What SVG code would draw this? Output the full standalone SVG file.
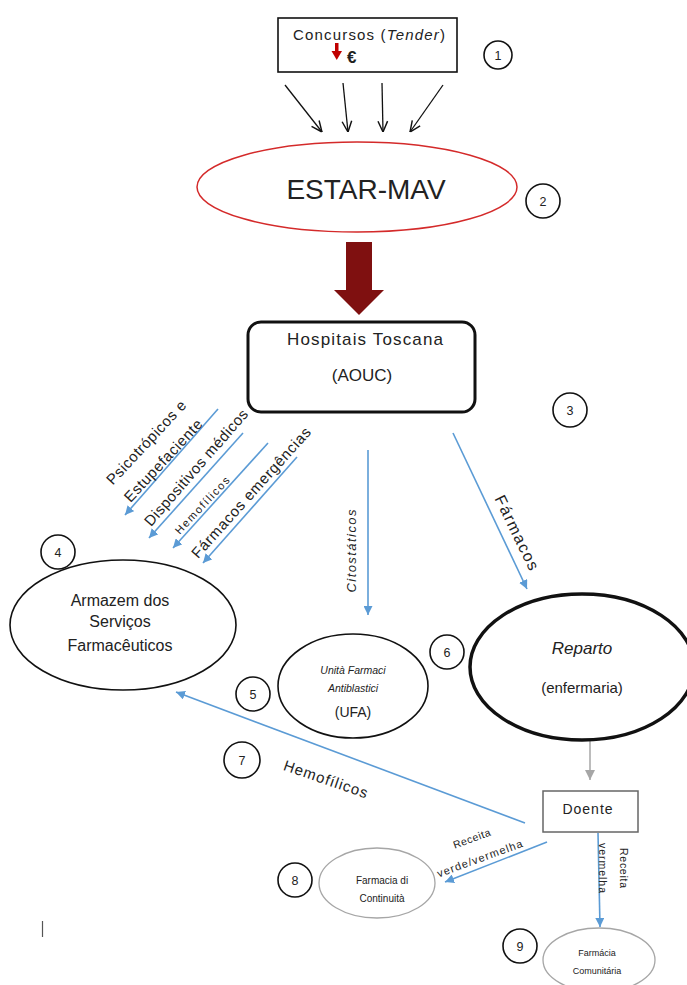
<svg xmlns="http://www.w3.org/2000/svg" width="687" height="985" viewBox="0 0 687 985">
<style>
text{font-family:"Liberation Sans",Arial,sans-serif;fill:#222}
.num{font-size:12.5px;text-anchor:middle}
.nc{fill:#fff;stroke:#111;stroke-width:1.6}
.blue{stroke:#5b9bd5;stroke-width:1.6;fill:none;marker-end:url(#ab)}
.blk{stroke:#111;stroke-width:1.3;fill:none;marker-end:url(#ak)}
.lbl{font-size:15px;text-anchor:middle}
.c{text-anchor:middle}
</style>
<defs>
<marker id="ab" viewBox="0 0 10 10" refX="10" refY="5" markerWidth="9" markerHeight="9" markerUnits="userSpaceOnUse" orient="auto"><path d="M0,0 L10,5 L0,10 z" fill="#5b9bd5"/></marker>
<marker id="ag" viewBox="0 0 10 10" refX="10" refY="5" markerWidth="10" markerHeight="10" markerUnits="userSpaceOnUse" orient="auto"><path d="M0,0 L10,5 L0,10 z" fill="#a6a6a6"/></marker>
<marker id="ak" viewBox="0 0 10 10" refX="10" refY="5" markerWidth="12" markerHeight="12" markerUnits="userSpaceOnUse" orient="auto"><path d="M1,1 L10,5 L1,9" fill="none" stroke="#111" stroke-width="1.2"/></marker>
</defs>
<rect width="687" height="985" fill="#fff"/>

<g id="connectors">
<line class="blk" x1="285" y1="85" x2="322" y2="132"/>
<line class="blk" x1="343" y1="83" x2="348" y2="132"/>
<line class="blk" x1="382" y1="83" x2="383" y2="132"/>
<line class="blk" x1="443" y1="85" x2="410" y2="132"/>
<polygon points="346,242 372,242 372,290 384,290 359,315 334,290 346,290" fill="#7f1010"/>
<line class="blue" x1="218" y1="409" x2="125" y2="515"/>
<line class="blue" x1="243" y1="433" x2="149" y2="538"/>
<line class="blue" x1="268" y1="443" x2="173" y2="548"/>
<line class="blue" x1="297" y1="457" x2="203" y2="563"/>
<line class="blue" x1="368" y1="450" x2="368" y2="615"/>
<line class="blue" x1="453" y1="433" x2="527" y2="589"/>
<line x1="590" y1="737" x2="590" y2="780" stroke="#a6a6a6" stroke-width="1.5" marker-end="url(#ag)"/>
<line class="blue" x1="525" y1="823" x2="176" y2="692"/>
<line class="blue" x1="547" y1="842" x2="445" y2="882"/>
<line class="blue" x1="598" y1="833" x2="600" y2="927"/>
<text class="lbl" transform="translate(150,446) rotate(-47)" textLength="109">Psicotrópicos e</text>
<text class="lbl" transform="translate(167,464) rotate(-47)" textLength="107">Estupefaciente</text>
<text class="lbl" transform="translate(200,471) rotate(-49)" textLength="149">Dispositivos médicos</text>
<text class="c" font-size="11" transform="translate(205,508) rotate(-47)" textLength="74">Hemofílicos</text>
<text class="lbl" font-size="15.5" transform="translate(255,496) rotate(-48)" textLength="170">Fármacos emergências</text>
<text class="c" font-size="13" font-style="italic" transform="translate(356,551) rotate(-90)" textLength="83">Citostáticos</text>
<text class="c" font-size="16" transform="translate(512,535) rotate(64)" textLength="81">Fármacos</text>
<text class="c" font-size="15" transform="translate(324,784) rotate(19)" textLength="88">Hemofílicos</text>
<text class="c" font-size="10.5" transform="translate(473,842) rotate(-20)" textLength="39">Receita</text>
<text class="c" font-size="11" transform="translate(481,862) rotate(-20)" textLength="90">verde/vermelha</text>
<text class="c" font-size="10.5" transform="translate(599,868) rotate(90)" textLength="50">vermelha</text>
<text class="c" font-size="10.5" transform="translate(620,868) rotate(90)" textLength="40">Receita</text>
</g>

<g id="n1">
<rect x="278" y="18" width="179" height="54" fill="#fff" stroke="#111" stroke-width="1.6"/>
<text x="369" y="40" class="c" font-size="15" textLength="152">Concursos (<tspan font-style="italic">Tender</tspan>)</text>
<rect x="335" y="43" width="3.5" height="9" fill="#c00000"/>
<polygon points="331.5,51 342,51 336.75,60" fill="#c00000"/>
<text x="347" y="63" font-size="17" font-weight="bold">€</text>
</g>
<g id="b1"><circle class="nc" cx="498" cy="55" r="14"/><text class="num" x="498" y="60">1</text></g>

<g id="n2">
<ellipse cx="357" cy="187" rx="160" ry="45" fill="#fff" stroke="#d42a2a" stroke-width="1.5"/>
<text x="366" y="199" class="c" font-size="28">ESTAR-MAV</text>
</g>
<g id="b2"><circle class="nc" cx="543" cy="201" r="17"/><text class="num" x="543" y="206">2</text></g>

<g id="n3">
<rect x="248" y="322" width="227" height="90" rx="13" fill="#fff" stroke="#111" stroke-width="3"/>
<text x="365" y="345" class="c" font-size="17" textLength="156">Hospitais Toscana</text>
<text x="362" y="381" class="c" font-size="17">(AOUC)</text>
</g>
<g id="b3"><circle class="nc" cx="570" cy="410" r="17"/><text class="num" x="570" y="415">3</text></g>

<g id="n4">
<ellipse cx="123" cy="625" rx="113" ry="65" fill="#fff" stroke="#111" stroke-width="1.6"/>
<text x="120" y="606" class="c" font-size="16">Armazem dos</text>
<text x="120" y="627" class="c" font-size="16">Serviços</text>
<text x="120" y="651" class="c" font-size="16">Farmacêuticos</text>
</g>
<g id="b4"><circle class="nc" cx="58" cy="552" r="17"/><text class="num" x="58" y="557">4</text></g>

<g id="n5">
<ellipse cx="353" cy="686" rx="75" ry="52" fill="#fff" stroke="#111" stroke-width="1.6"/>
<text x="353" y="674" class="c" font-size="10.5" font-style="italic" fill="#444">Unità Farmaci</text>
<text x="353" y="692" class="c" font-size="10.5" font-style="italic" fill="#444">Antiblastici</text>
<text x="353" y="717" class="c" font-size="14">(UFA)</text>
</g>
<g id="b5"><circle class="nc" cx="253" cy="694" r="17"/><text class="num" x="253" y="699">5</text></g>

<g id="n6">
<ellipse cx="582" cy="667" rx="112" ry="73" fill="#fff" stroke="#111" stroke-width="3.5"/>
<text x="582" y="654" class="c" font-size="17" font-style="italic">Reparto</text>
<text x="582" y="693" class="c" font-size="15">(enfermaria)</text>
</g>
<g id="b6"><circle class="nc" cx="447" cy="652" r="17"/><text class="num" x="447" y="657">6</text></g>

<g id="b7"><circle class="nc" cx="242" cy="760" r="18"/><text class="num" x="242" y="765">7</text></g>

<g id="n7">
<rect x="543" y="791" width="95" height="41" fill="#fff" stroke="#666" stroke-width="1.5"/>
<text x="588" y="814" class="c" font-size="14" letter-spacing="1">Doente</text>
</g>

<g id="n8">
<ellipse cx="377" cy="883" rx="58" ry="35" fill="#fff" stroke="#a6a6a6" stroke-width="1.3"/>
<text x="382" y="884" class="c" font-size="10">Farmacia di</text>
<text x="382" y="902" class="c" font-size="10">Continuità</text>
</g>
<g id="b8"><circle class="nc" cx="295" cy="880" r="17"/><text class="num" x="295" y="885">8</text></g>

<g id="n9">
<ellipse cx="599" cy="960" rx="56" ry="32" fill="#fff" stroke="#a6a6a6" stroke-width="1.3"/>
<text x="597" y="956" class="c" font-size="9">Farmácia</text>
<text x="597" y="974" class="c" font-size="9">Comunitária</text>
</g>
<g id="b9"><circle class="nc" cx="520" cy="946" r="17"/><text class="num" x="520" y="951">9</text></g>

<line x1="42.5" y1="921" x2="42.5" y2="937" stroke="#555" stroke-width="1.2"/>
</svg>
